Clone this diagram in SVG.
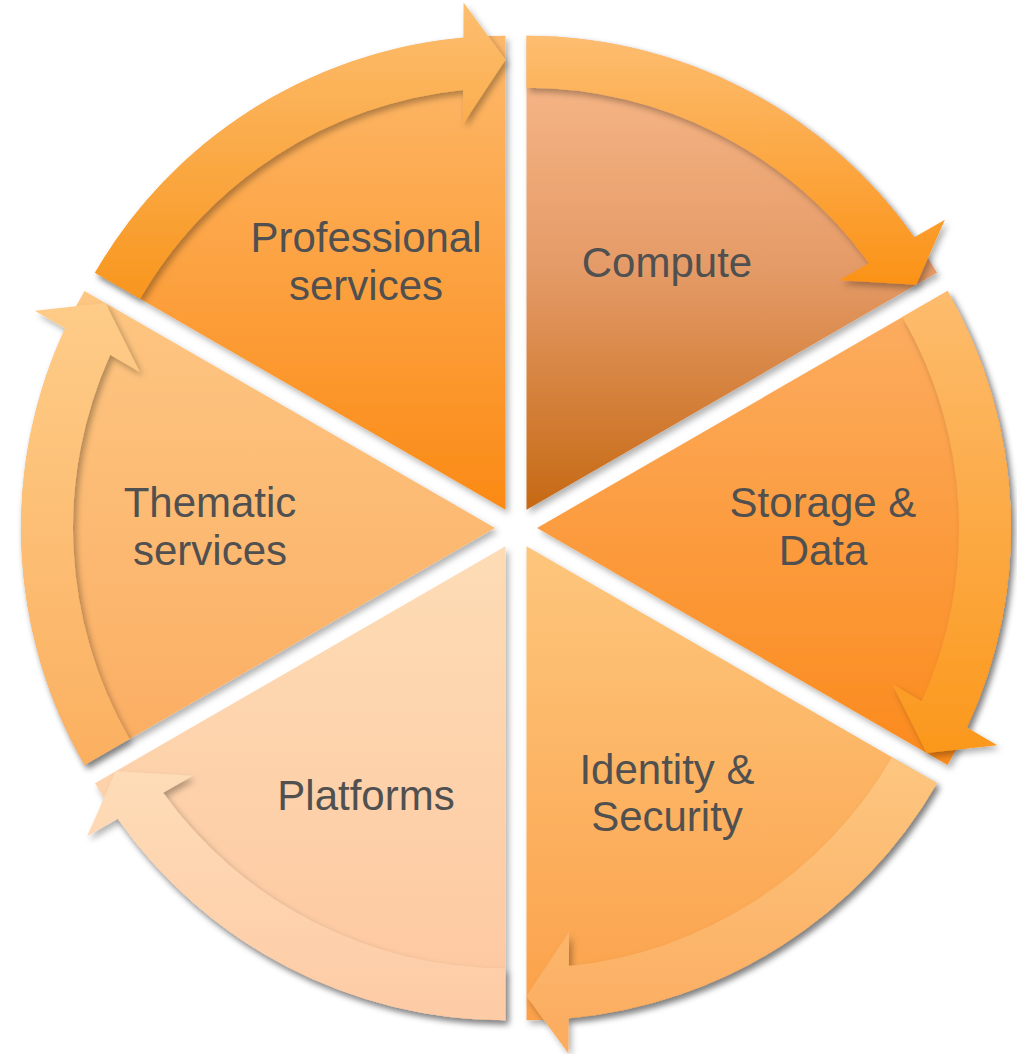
<svg xmlns="http://www.w3.org/2000/svg" width="1017" height="1054" viewBox="0 0 1017 1054">
<defs>
<filter id="sh" x="-10%" y="-10%" width="120%" height="120%">
<feDropShadow dx="3" dy="4" stdDeviation="3" flood-color="#000" flood-opacity="0.3"/>
</filter>
<linearGradient id="gPro" x1="0" y1="0" x2="0" y2="1"><stop offset="0" stop-color="#FDB96C"/><stop offset="1" stop-color="#FB8A15"/></linearGradient>
<linearGradient id="gCom" x1="0" y1="0" x2="0" y2="1"><stop offset="0" stop-color="#FABB8D"/><stop offset="0.5" stop-color="#E49A66"/><stop offset="1" stop-color="#C66914"/></linearGradient>
<linearGradient id="gSto" x1="0" y1="0" x2="0" y2="1"><stop offset="0" stop-color="#FCAE63"/><stop offset="1" stop-color="#FB8A1C"/></linearGradient>
<linearGradient id="gIde" x1="0" y1="0" x2="0" y2="1"><stop offset="0" stop-color="#FDC67C"/><stop offset="1" stop-color="#FBA14A"/></linearGradient>
<linearGradient id="gPla" x1="0" y1="0" x2="0" y2="1"><stop offset="0" stop-color="#FDDCB5"/><stop offset="1" stop-color="#FDC7A0"/></linearGradient>
<linearGradient id="gThe" x1="0" y1="0" x2="0" y2="1"><stop offset="0" stop-color="#FDC682"/><stop offset="1" stop-color="#FBAD62"/></linearGradient>
<linearGradient id="aPro" x1="0" y1="0" x2="0" y2="1"><stop offset="0" stop-color="#FDBE70"/><stop offset="1" stop-color="#F8961E"/></linearGradient>
<linearGradient id="aCom" x1="0" y1="0" x2="0" y2="1"><stop offset="0" stop-color="#FDBD70"/><stop offset="1" stop-color="#FB9216"/></linearGradient>
<linearGradient id="aSto" x1="0" y1="0" x2="0" y2="1"><stop offset="0" stop-color="#FDBC6E"/><stop offset="1" stop-color="#FB981C"/></linearGradient>
<linearGradient id="aIde" x1="0" y1="0" x2="0" y2="1"><stop offset="0" stop-color="#FDC680"/><stop offset="1" stop-color="#FBAB5E"/></linearGradient>
<linearGradient id="aPla" x1="0" y1="0" x2="0" y2="1"><stop offset="0" stop-color="#FEDCB8"/><stop offset="1" stop-color="#FDCBA5"/></linearGradient>
<linearGradient id="aThe" x1="0" y1="0" x2="0" y2="1"><stop offset="0" stop-color="#FECC88"/><stop offset="1" stop-color="#FBB060"/></linearGradient>
</defs>
<style>
.slice{filter:url(#sh);}
.arrow{filter:url(#sh);}
.lbl{font-family:"Liberation Sans",Arial,sans-serif;font-size:42px;fill:#505050;text-anchor:middle;}
</style>

<g id="node-compute">
<path class="slice" fill="url(#gCom)" d="M526.5,509.81 L526.5,35.81 A474,474 0 0 1 937,272.81 Z"/>
<text class="lbl" x="667" y="277">Compute</text>
</g>
<g id="node-storage">
<path class="slice" fill="url(#gSto)" d="M537,528 L947.5,291 A474,474 0 0 1 947.5,765 Z"/>
<text class="lbl" x="823" y="517"><tspan x="823" y="517">Storage &amp;</tspan><tspan x="823" y="565">Data</tspan></text>
</g>
<g id="node-identity">
<path class="slice" fill="url(#gIde)" d="M526.5,546.19 L937,783.19 A474,474 0 0 1 526.5,1020.19 Z"/>
<text class="lbl" x="667" y="784"><tspan x="667" y="784">Identity &amp;</tspan><tspan x="667" y="831">Security</tspan></text>
</g>
<g id="node-platforms">
<path class="slice" fill="url(#gPla)" d="M505.5,546.19 L505.5,1020.19 A474,474 0 0 1 95,783.19 Z"/>
<text class="lbl" x="366" y="810">Platforms</text>
</g>
<g id="node-thematic">
<path class="slice" fill="url(#gThe)" d="M495,528 L84.5,765 A474,474 0 0 1 84.5,291 Z"/>
<text class="lbl" x="210" y="517"><tspan x="210" y="517">Thematic</tspan><tspan x="210" y="565">services</tspan></text>
</g>
<g id="node-professional">
<path class="slice" fill="url(#gPro)" d="M505.5,509.81 L95,272.81 A474,474 0 0 1 505.5,35.81 Z"/>
<text class="lbl" x="366" y="252"><tspan x="366" y="252">Professional</tspan><tspan x="366" y="300">services</tspan></text>
</g>

<g id="connectors">
<path class="arrow" fill="url(#aCom)" d="M526.5,35.81 A474,474 0 0 1 914.32,237.27 L944.88,219.84 L916.21,284.81 L839.29,280.16 L868.92,263.15 A422,422 0 0 0 526.5,87.81 Z"/>
<path class="arrow" fill="url(#aSto)" d="M947.5,291 A474,474 0 0 1 966.94,727.59 L997.3,745.35 L926.71,753 L892.29,684.06 L921.82,701.22 A422,422 0 0 0 902.46,317 Z"/>
<path class="arrow" fill="url(#aIde)" d="M937,783.19 A474,474 0 0 1 568.62,1018.33 L568.43,1053.49 L526.5,996.19 L568.98,931.91 L568.9,966.07 A422,422 0 0 0 891.96,757.19 Z"/>
<path class="arrow" fill="url(#aPla)" d="M505.5,1020.19 A474,474 0 0 1 117.68,818.73 L87.12,836.16 L115.79,771.19 L192.71,775.84 L163.08,792.85 A422,422 0 0 0 505.5,968.19 Z"/>
<path class="arrow" fill="url(#aThe)" d="M84.5,765 A474,474 0 0 1 65.06,328.41 L34.7,310.65 L105.29,303 L139.71,371.94 L110.18,354.78 A422,422 0 0 0 129.54,739 Z"/>
<path class="arrow" fill="url(#aPro)" d="M95,272.81 A474,474 0 0 1 463.38,37.67 L463.57,2.51 L505.5,59.81 L463.02,124.09 L463.1,89.93 A422,422 0 0 0 140.04,298.81 Z"/>
</g>
</svg>
